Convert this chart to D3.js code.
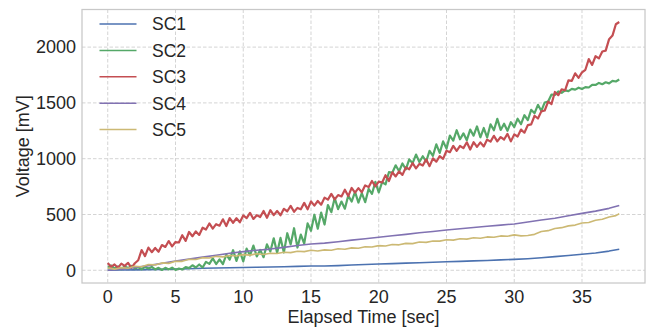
<!DOCTYPE html>
<html lang="en">
<head>
  <meta charset="UTF-8">
  <title>Supercapacitor voltage</title>
  <script src="https://d3js.org/d3.v7.min.js"></script>
  <style>
    body {
      margin: 0;
      background: #fff;
      font-family: 'Liberation Sans', Arial, sans-serif;
    }
    .grid line {
      stroke: #d4d4d4;
      stroke-width: 1;
      stroke-dasharray: 3.5, 2;
    }
    .tick-label {
      font-size: 18px;
      fill: #262626;
    }
    .axis-title {
      font-size: 18px;
      fill: #262626;
    }
    .legend text {
      font-size: 17.5px;
      fill: #262626;
    }
    .series {
      fill: none;
      stroke-linejoin: round;
    }
  </style>
</head>
<body>
<svg width="646" height="327"></svg>
<script>
  // ---- data ----
  const seriesNames = ["SC1", "SC2", "SC3", "SC4", "SC5"];
  const colors = ["#4C72B0", "#55A868", "#C44E52", "#8172B2", "#CCB974"];

  const xTicks = [0, 5, 10, 15, 20, 25, 30, 35];
  const yTicks = [0, 500, 1000, 1500, 2000];

  // SC1 and SC4: one sample per second (last at 37.75 s)
  const timeCoarse = [0,1,2,3,4,5,6,7,8,9,10,11,12,13,14,15,16,17,18,19,20,21,22,23,24,25,26,27,28,29,30,31,32,33,34,35,36,37,37.75];
  const sc1 = [0,2,4,6,8,10,14,18,21,23,25,27,30,32,35,38,39,42,47,52,56,60,64,68,72,77,80,84,88,93,98,104,112,122,133,143,155,172,188];
  const sc4 = [0,10,25,42,62,83,100,118,134,152,167,180,190,205,222,236,243,256,270,283,296,309,322,336,348,361,372,383,394,405,415,432,450,466,488,510,530,555,580];

  // SC5: every 0.5 s
  const timeHalf = [0,0.5,1,1.5,2,2.5,3,3.5,4,4.5,5,5.5,6,6.5,7,7.5,8,8.5,9,9.5,10,10.5,11,11.5,12,12.5,13,13.5,14,14.5,15,15.5,16,16.5,17,17.5,18,18.5,19,19.5,20,20.5,21,21.5,22,22.5,23,23.5,24,24.5,25,25.5,26,26.5,27,27.5,28,28.5,29,29.5,30,30.5,31,31.5,32,32.5,33,33.5,34,34.5,35,35.5,36,36.5,37,37.5,37.75];
  const sc5 = [20,10,24,18,36,32,52,48,66,62,80,80,98,96,113,110,125,120,133,128,140,136,148,142,153,150,161,158,171,167,179,173,183,180,193,189,201,198,211,208,221,218,231,228,241,239,253,250,263,261,274,270,283,279,291,287,299,296,308,305,317,308,312,322,347,355,375,382,398,405,424,428,448,457,478,490,507];

  // SC2 and SC3: every 0.25 s, noisy
  const sc2 = [24,43,17,35,10,35,20,40,16,27,9,30,15,30,7,22,3,22,8,23,3,16,7,28,19,45,25,52,25,75,57,107,56,98,55,140,96,180,84,170,
               80,194,133,221,124,182,117,232,168,287,158,290,160,332,232,377,204,320,240,420,354,498,373,517,410,585,521,647,548,616,
               552,669,616,702,607,692,610,729,684,792,698,789,770,879,874,941,888,957,905,994,960,1037,970,1022,975,1070,1026,1129,1052,1155,
               1090,1207,1162,1255,1174,1227,1166,1261,1206,1289,1192,1275,1190,1308,1255,1357,1258,1314,1250,1327,1284,1358,1309,1390,1345,1438,
               1408,1483,1428,1504,1513,1575,1572,1603,1590,1612,1605,1626,1619,1636,1624,1641,1638,1662,1661,1679,1667,1685,1675,1697,1692,1710];
  const sc3 = [65,30,52,22,60,40,67,22,63,90,181,127,203,162,200,166,226,209,262,214,253,249,314,263,343,305,348,317,381,365,420,373,413,400,457,397,468,426,466,430,
               491,468,515,460,494,477,532,470,538,494,531,493,551,529,577,524,559,546,604,546,618,579,621,588,651,633,685,635,674,662,
               722,665,738,696,736,700,761,745,800,752,794,787,852,800,878,841,886,855,921,905,960,913,954,939,994,933,1003,973,1023,999,
               1071,1058,1115,1070,1114,1095,1147,1082,1148,1106,1146,1110,1171,1153,1205,1155,1194,1172,1222,1155,1218,1199,1261,1233,1301,1308,
               1385,1360,1424,1432,1512,1490,1598,1569,1621,1613,1701,1698,1765,1725,1774,1797,1892,1840,1918,1899,1961,1968,2071,2103,2205,2225];
  const sampleStep = 0.25;
  const timeFine = sc2.map((_, i) => i * sampleStep);

  const seriesTimes = [timeCoarse, timeFine, timeFine, timeCoarse, timeHalf];
  const seriesValues = [sc1, sc2, sc3, sc4, sc5];
  const seriesWidths = [1.6, 2.2, 2.2, 1.6, 1.6];

  // ---- layout ----
  const svg = d3.select("svg");
  const margin = { left: 82, right: 1, top: 9.5, bottom: 44 };
  const width = +svg.attr("width"), height = +svg.attr("height");

  const x = d3.scaleLinear()
    .domain([-1.9, 39.65])
    .range([margin.left, width - margin.right]);
  const y = d3.scaleLinear()
    .domain([-114, 2337])
    .range([height - margin.bottom, margin.top]);

  // grid
  const grid = svg.append("g").attr("class", "grid");
  grid.selectAll("line.v")
    .data(xTicks)
    .join("line")
    .attr("class", "v")
    .attr("x1", d => x(d)).attr("x2", d => x(d))
    .attr("y1", y.range()[1]).attr("y2", y.range()[0]);
  grid.selectAll("line.h")
    .data(yTicks)
    .join("line")
    .attr("class", "h")
    .attr("y1", d => y(d)).attr("y2", d => y(d))
    .attr("x1", x.range()[0]).attr("x2", x.range()[1]);

  // series
  const lineGen = d3.line()
    .x(d => x(d[0]))
    .y(d => y(d[1]));

  seriesNames.forEach((name, i) => {
    const pts = seriesValues[i].map((v, j) => [seriesTimes[i][j], v]);
    svg.append("path")
      .attr("class", "series")
      .attr("stroke", colors[i])
      .attr("stroke-width", seriesWidths[i])
      .attr("d", lineGen(pts));
  });

  // frame
  svg.append("rect")
    .attr("x", x.range()[0])
    .attr("y", y.range()[1])
    .attr("width", x.range()[1] - x.range()[0])
    .attr("height", y.range()[0] - y.range()[1])
    .attr("fill", "none")
    .attr("stroke", "#c8c8c8")
    .attr("stroke-width", 1.25);

  // tick labels
  svg.append("g")
    .selectAll("text")
    .data(xTicks)
    .join("text")
    .attr("class", "tick-label")
    .attr("x", d => x(d))
    .attr("y", 302.5)
    .attr("text-anchor", "middle")
    .text(d => d);

  svg.append("g")
    .selectAll("text")
    .data(yTicks)
    .join("text")
    .attr("class", "tick-label")
    .attr("x", 76)
    .attr("y", d => y(d))
    .attr("dy", "0.35em")
    .attr("text-anchor", "end")
    .text(d => d);

  // axis titles
  svg.append("text")
    .attr("class", "axis-title")
    .attr("x", (x.range()[0] + x.range()[1]) / 2)
    .attr("y", 323)
    .attr("text-anchor", "middle")
    .text("Elapsed Time [sec]");

  svg.append("text")
    .attr("class", "axis-title")
    .attr("transform", `translate(28.5, ${(y.range()[0] + y.range()[1]) / 2}) rotate(-90)`)
    .attr("text-anchor", "middle")
    .text("Voltage [mV]");

  // legend
  const legend = svg.append("g").attr("class", "legend");
  const rowH = 26.4;
  const leg = legend.selectAll("g")
    .data(seriesNames)
    .join("g")
    .attr("transform", (d, i) => `translate(99.5, ${24 + i * rowH})`);
  leg.append("line")
    .attr("x1", 0).attr("x2", 37)
    .attr("stroke", (d, i) => colors[i])
    .attr("stroke-width", 1.5);
  leg.append("text")
    .attr("x", 52.5)
    .attr("dy", "0.36em")
    .text(d => d);
</script>
</body>
</html>
